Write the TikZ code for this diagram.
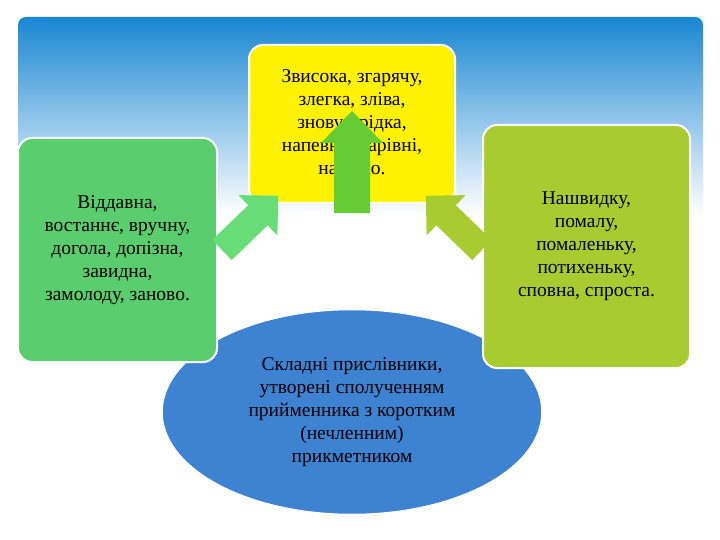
\documentclass[tikz,border=0pt]{standalone}
\usepackage{fontspec}
\setmainfont{Liberation Serif}
\usetikzlibrary{shapes.geometric}
\begin{document}
\begin{tikzpicture}[x=1pt,y=-1pt,
  box/.style={draw=white,line width=2pt,rounded corners=14pt,align=center,font=\fontsize{19.5}{23}\selectfont,text=black}]
\definecolor{lg}{RGB}{90,205,110}
\definecolor{yg}{RGB}{168,204,48}
\definecolor{ab}{RGB}{62,130,210}
\definecolor{ga}{RGB}{102,221,119}
\definecolor{ca}{RGB}{102,204,51}
\useasboundingbox (0,0) rectangle (720,540);
\fill[white] (0,0) rectangle (720,540);
\shade[top color={rgb,255:red,25;green,135;blue,210},middle color={rgb,255:red,120;green,190;blue,235},bottom color=white,rounded corners=8pt] (18,17) rectangle (703,215);
\node[ellipse,fill=ab,draw=white,line width=1.5pt,minimum width=380,minimum height=205] (e) at (352,412) {};
\node[align=center,font=\fontsize{19.5}{23}\selectfont] (et) at (352,412) {Складні прислівники,\\утворені сполученням\\прийменника з коротким\\(нечленним)\\прикметником};
\node[box,fill=lg,minimum width=199,minimum height=224] (l) at (117.5,250) {Віддавна,\\востаннє, вручну,\\догола, допізна,\\завидна,\\замолоду, заново.};
\node[box,fill=yellow,minimum width=206,minimum height=158] (c) at (352,124) {Звисока, згарячу,\\злегка, зліва,\\знову, зрідка,\\напевне, нарівні,\\нарізно.};
\node[box,fill=yg,minimum width=207,minimum height=243] (r) at (586.5,246.5) {Нашвидку,\\помалу,\\помаленьку,\\потихеньку,\\сповна, спроста.};
\fill[ca,shift={(352,213)},rotate=90] (0,-18) -- (70,-18) -- (70,-31) -- (102,0) -- (70,31) -- (70,18) -- (0,18) -- cycle;
\fill[ga,shift={(222,250)},rotate=44] (0,-14) -- (50,-14) -- (50,-28) -- (78,0) -- (50,28) -- (50,14) -- (0,14) -- cycle;
\fill[yg,shift={(482,250)},rotate=136] (0,-14) -- (50,-14) -- (50,-28) -- (78,0) -- (50,28) -- (50,14) -- (0,14) -- cycle;
\end{tikzpicture}
\end{document}
